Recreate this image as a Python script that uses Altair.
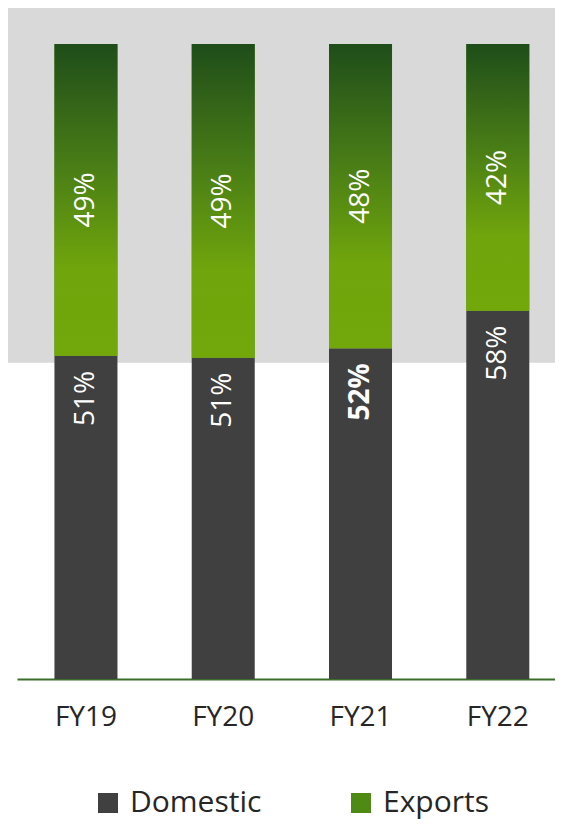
import altair as alt
import pandas as pd

years = ["FY19", "FY20", "FY21", "FY22"]
domestic = [50.9, 50.6, 52.1, 58.0]
exports = [49.1, 49.4, 47.9, 42.0]
domestic_bold = [False, False, True, False]
series = ["Domestic", "Exports"]

rows = []
for i, yr in enumerate(years):
    rows.append(dict(year=yr, type="Domestic", y0=0, y1=domestic[i],
                     label=f"{round(domestic[i])}%", bold=domestic_bold[i]))
    rows.append(dict(year=yr, type="Exports", y0=domestic[i], y1=domestic[i] + exports[i],
                     label=f"{round(exports[i])}%", bold=False))
df = pd.DataFrame(rows)
df["mid"] = (df["y0"] + df["y1"]) / 2

FONT = "Open Sans"
W, H = 538, 671
ymax = 105.67

xscale = alt.Scale(paddingInner=0.541, paddingOuter=0.23, align=0.593)
xenc = alt.X("year:N", sort=years, scale=xscale,
             axis=alt.Axis(title=None, labelAngle=0, ticks=False, labelFontSize=28,
                           labelColor="#262626", labelFont=FONT, labelPadding=24,
                           domainColor="#3b6e2b", domainWidth=2))
yscale = alt.Scale(domain=[0, ymax], nice=False, zero=True)

base = alt.Chart(df)

bg = alt.Chart(pd.DataFrame({"v": [49.8]})).mark_rect(color="#d9d9d9").encode(
    x=alt.value(-9), x2=alt.value(W),
    y=alt.Y("v:Q", scale=yscale, axis=None), y2=alt.value(0))

bars = base.mark_bar().encode(
    x=xenc,
    y=alt.Y("y1:Q", scale=yscale, axis=None),
    y2="y0:Q",
    color=alt.Color("type:N", scale=alt.Scale(domain=series, range=["#404040", "#4f8a14"]),
                    legend=alt.Legend(title=None, orient="none", direction="horizontal",
                                      legendX=76, legendY=780, symbolType="square",
                                      symbolSize=400, symbolStrokeWidth=0,
                                      labelFontSize=30, labelFont=FONT, labelColor="#262626",
                                      labelOffset=7, columnPadding=84)))

grad = alt.Gradient(gradient="linear", x1=0, x2=0, y1=0, y2=1,
                    stops=[alt.GradientStop(color="#1f4d1a", offset=0),
                           alt.GradientStop(color="#4a7e16", offset=0.4),
                           alt.GradientStop(color="#70a50c", offset=0.72),
                           alt.GradientStop(color="#73a80b", offset=1)])

exp_bars = base.transform_filter(alt.datum.type == "Exports").mark_bar(color=grad).encode(
    x=alt.X("year:N", sort=years, scale=xscale),
    y=alt.Y("y1:Q", scale=yscale, axis=None), y2="y0:Q")

exp_text = base.transform_filter(alt.datum.type == "Exports").mark_text(
    angle=270, align="center", baseline="middle", color="white", fontSize=28, font=FONT
).encode(x=alt.X("year:N", sort=years, scale=xscale),
         y=alt.Y("mid:Q", scale=yscale, axis=None), text="label:N")

dom = base.transform_filter(alt.datum.type == "Domestic")
dom_text = dom.transform_filter(alt.datum.bold == False).mark_text(
    angle=270, align="right", baseline="middle", color="white", fontSize=28, font=FONT, dx=-15
).encode(x=alt.X("year:N", sort=years, scale=xscale),
         y=alt.Y("y1:Q", scale=yscale, axis=None), text="label:N")
dom_text_b = dom.transform_filter(alt.datum.bold == True).mark_text(
    angle=270, align="right", baseline="middle", color="white", fontSize=28, font=FONT,
    fontWeight="bold", dx=-15
).encode(x=alt.X("year:N", sort=years, scale=xscale),
         y=alt.Y("y1:Q", scale=yscale, axis=None), text="label:N")

chart = alt.layer(bg, bars, exp_bars, exp_text, dom_text, dom_text_b).properties(
    width=W, height=H, padding={"left": 0, "top": 0, "right": 0, "bottom": 4}
).configure_view(stroke=None)

chart.save("out.html", embed_options={"renderer": "svg", "actions": False})
